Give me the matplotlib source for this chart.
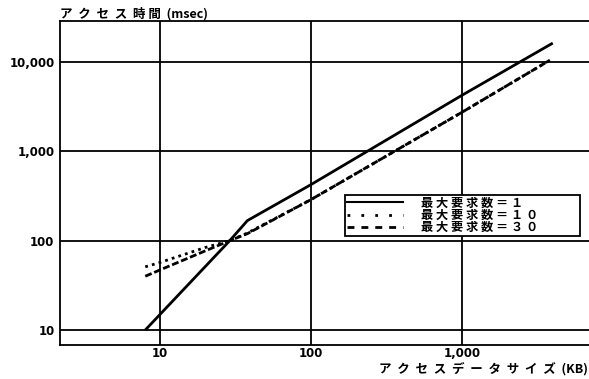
import matplotlib
matplotlib.use("Agg")
import matplotlib.pyplot as plt
from matplotlib.lines import Line2D

plt.rcParams['font.family'] = ['Noto Sans CJK JP', 'DejaVu Sans']

# data
size_1 = [8, 29, 38, 100, 1000, 4000]
time_1 = [10, 100, 168, 424, 4240, 16300]

size_10 = [8, 10, 20, 29, 38, 100, 1000, 3830]
time_10 = [51, 57, 84, 100, 122, 288, 2735, 10500]

size_30 = [8, 10, 20, 29, 38, 100, 1000, 3830]
time_30 = [40, 47, 77, 100, 120, 288, 2735, 10500]

x_ticks = [10, 100, 1000]
x_ticklabels = ["10", "100", "1,000"]
y_ticks = [10, 100, 1000, 10000]
y_ticklabels = ["10", "100", "1,000", "10,000"]

legend_labels = ["最 大 要 求 数 ＝ １", "最 大 要 求 数 ＝ １ ０", "最 大 要 求 数 ＝ ３ ０"]
title_text = "ア  ク  セ  ス  時 間  (msec)"
xlabel_text = "ア  ク  セ  ス  デ  ー  タ  サ  イ  ズ  (KB)"

W, H = 589, 379
fig = plt.figure(figsize=(W / 100, H / 100), dpi=100)
ax = fig.add_axes([60 / W, (H - 345) / H, (W - 60) / W, (345 - 21) / H])
ax.set_xscale('log')
ax.set_yscale('log')
ax.set_xlim(2.18, 6950)
ax.set_ylim(6.8, 28800)

ax.set_xticks(x_ticks)
ax.set_xticklabels(x_ticklabels, fontsize=8.5, fontweight='bold', family='DejaVu Sans')
ax.set_yticks(y_ticks)
ax.set_yticklabels(y_ticklabels, fontsize=8.5, fontweight='bold', family='DejaVu Sans')
ax.minorticks_off()
ax.tick_params(axis='y', length=0, pad=4)
ax.tick_params(axis='x', length=0, pad=1.5)
ax.grid(True, color='black', linewidth=1.3)
ax.set_axisbelow(True)
for side in ['left', 'top', 'bottom']:
    ax.spines[side].set_linewidth(1.3)
    ax.spines[side].set_color('black')
ax.spines['right'].set_visible(False)

ax.plot(size_1, time_1, color='black', linewidth=2.0, linestyle='-', solid_capstyle='butt')
ax.plot(size_10, time_10, color='black', linewidth=2.0, linestyle=(0, (1, 1.5)))
ax.plot(size_30, time_30, color='black', linewidth=2.0, linestyle=(0, (2.5, 1.0)))

handles = [
    Line2D([], [], color='black', linewidth=1.5, linestyle='-'),
    Line2D([], [], color='black', linewidth=2.0, linestyle=(0, (1, 4))),
    Line2D([], [], color='black', linewidth=2.0, linestyle=(0, (2.5, 2.5))),
]
leg = ax.legend(handles, legend_labels, loc='lower left',
                bbox_to_anchor=((345 - 60) / (W - 60), (345 - 236) / (345 - 21),
                                (580 - 345) / (W - 60), (236 - 194) / (345 - 21)),
                mode='expand', fontsize=8.8, frameon=True, fancybox=False,
                handlelength=4.6, handletextpad=1.5, borderpad=0.15,
                labelspacing=-0.05, borderaxespad=0)
leg.get_frame().set_edgecolor('black')
leg.get_frame().set_linewidth(1.3)
leg.get_frame().set_alpha(1)
for t in leg.get_texts():
    t.set_fontweight('bold')

fig.text(60 / W, 1 - 14 / H, title_text, fontsize=9, fontweight='bold',
         ha='left', va='center')
fig.text(1 - 1 / W, 1 - 369 / H, xlabel_text, fontsize=9, fontweight='bold',
         ha='right', va='center')

fig.savefig('out.png', dpi=100)
